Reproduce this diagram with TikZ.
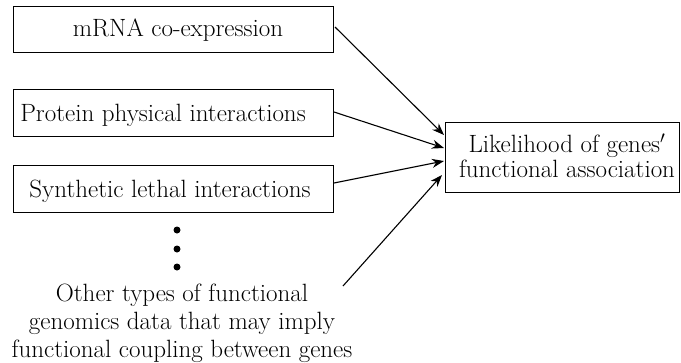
\documentclass[tikz,border=0pt]{standalone}
\usetikzlibrary{arrows.meta}
\begin{document}
\begin{tikzpicture}[x=1pt,y=-1pt,
  boxn/.style={draw,line width=1.1pt,minimum width=#1,inner sep=0pt,anchor=north west},
  lbl/.style={font=\fontsize{25}{25}\selectfont,inner sep=0pt},
  arr/.style={line width=1.1pt,-{Stealth[length=12pt,width=9pt]}},
  dotn/.style={circle,fill=black,inner sep=0pt,minimum size=7pt}]
\useasboundingbox (0,0) rectangle (681,362);
% boxes
\node[boxn=320pt,minimum height=46pt] (b1) at (13,6) {};
\node[boxn=320pt,minimum height=47pt] (b2) at (13,89) {};
\node[boxn=320pt,minimum height=47pt] (b3) at (13,165) {};
\node[boxn=234pt,minimum height=70pt] (L) at (445,122) {};
% texts
\node[lbl,anchor=base] (t1) at (178,36) {mRNA co-expression};
\node[lbl,anchor=base] (t2) at (163,121) {Protein physical interactions};
\node[lbl,anchor=base] (t3) at (170,197) {Synthetic lethal interactions};
\node[lbl,align=center] (tL) at (567,156) {Likelihood of genes$'$\\functional association};
% dots
\node[dotn] (d1) at (177,230) {};
\node[dotn] (d2) at (177,249) {};
\node[dotn] (d3) at (177,267) {};
% other
\node[lbl,align=center,font=\fontsize{25}{28}\selectfont] (o) at (182,323)
  {Other types of functional\\genomics data that may imply\\functional coupling between genes};
% connector ends
\coordinate (s1) at (335,27);
\coordinate (s2) at (334,112);
\coordinate (s3) at (334,183);
\coordinate (s4) at (343,286);
\coordinate (e1) at (444,135);
\coordinate (e2) at (444,148);
\coordinate (e3) at (444,161);
\coordinate (e4) at (442,175);
\draw[arr] (s1) -- (e1);
\draw[arr] (s2) -- (e2);
\draw[arr] (s3) -- (e3);
\draw[arr] (s4) -- (e4);
\end{tikzpicture}
\end{document}
